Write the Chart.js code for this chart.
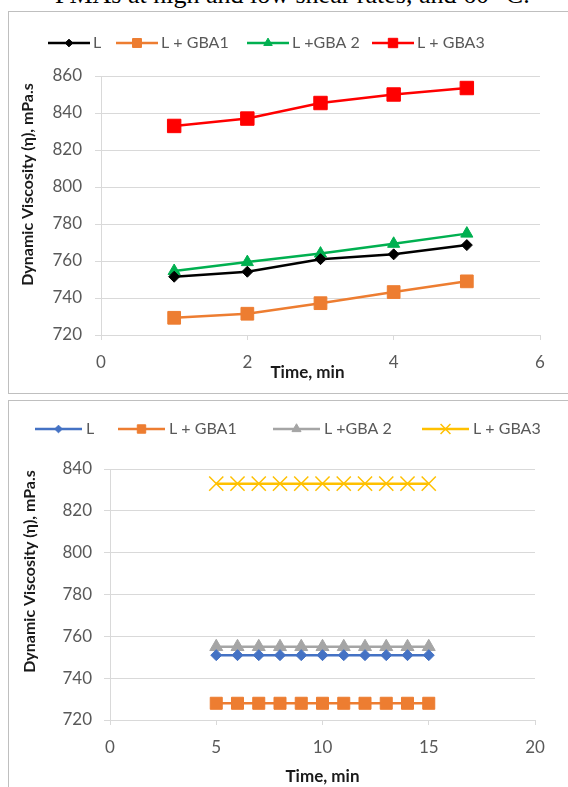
<!DOCTYPE html>
<html>
<head>
<meta charset="utf-8">
<script src="https://cdn.jsdelivr.net/npm/chart.js@4.4.0/dist/chart.umd.min.js"></script>
<style>
  body { margin: 0; background: #fff; width: 568px; height: 787px; overflow: hidden; position: relative; }
  #caption { position: absolute; left: 55px; top: -18px; font: 26px/1 "Liberation Serif"; white-space: nowrap; color: #000; }
  .box { position: absolute; left: 8px; width: 600px; border: 1px solid #bfbfbf; box-sizing: border-box; background: #fff; }
  #box1 { top: 11px; height: 383px; }
  #box2 { top: 400px; height: 420px; }
  canvas { position: absolute; left: 0; top: 0; }
</style>
</head>
<body>
<div id="caption">PMAs at high and low shear rates, and 60 °C.</div>
<div class="box" id="box1"><canvas id="chart1" width="559" height="381" style="width:559px;height:381px"></canvas></div>
<div class="box" id="box2"><canvas id="chart2" width="559" height="386" style="width:559px;height:386px"></canvas></div>

<script>
// series labels
var seriesNames = ['L', 'L + GBA1', 'L +GBA 2', 'L + GBA3'];

// top chart: viscosity vs time (min)
var time1 = [1, 2, 3, 4, 5];
var visc1_L = [751.5, 754.2, 761, 763.6, 768.6];
var visc1_GBA1 = [729.3, 731.5, 737.2, 743.2, 749];
var visc1_GBA2 = [754.6, 759.4, 764, 769.3, 774.8];
var visc1_GBA3 = [833, 837, 845.4, 850, 853.5];

// bottom chart
var time2 = [5, 6, 7, 8, 9, 10, 11, 12, 13, 14, 15];
var visc2_L = [751, 751, 751, 751, 751, 751, 751, 751, 751, 751, 751];
var visc2_GBA1 = [728, 728, 728, 728, 728, 728, 728, 728, 728, 728, 728];
var visc2_GBA2 = [755, 755, 755, 755, 755, 755, 755, 755, 755, 755, 755];
var visc2_GBA3 = [833, 833, 833, 833, 833, 833, 833, 833, 833, 833, 833];

var xTitle = 'Time, min';
var yTitle = 'Dynamic Viscosity (\u03b7), mPa.s';

function pts(xs, ys) {
  return xs.map(function (x, i) { return { x: x, y: ys[i] }; });
}

function series(label, xs, ys, color, style, radius, markerBorder) {
  return {
    label: label,
    data: pts(xs, ys),
    borderColor: color,
    borderWidth: 2.5,
    pointStyle: style,
    pointRadius: radius,
    pointHoverRadius: radius,
    pointBackgroundColor: color,
    pointBorderColor: color,
    pointBorderWidth: markerBorder || 1,
    tension: 0
  };
}

// legend with a line through the marker, like Excel
var lineLegend = {
  id: 'lineLegend',
  afterDraw: function (chart, args, opts) {
    var ctx = chart.ctx;
    ctx.save();
    ctx.font = '16px Lato';
    ctx.textBaseline = 'middle';
    ctx.textAlign = 'left';
    chart.data.datasets.forEach(function (ds, i) {
      var x = opts.starts[i];
      ctx.strokeStyle = ds.borderColor;
      ctx.lineWidth = ds.borderWidth;
      ctx.beginPath();
      ctx.moveTo(x, opts.y);
      ctx.lineTo(x + opts.lineLen, opts.y);
      ctx.stroke();
      ctx.fillStyle = ds.pointBackgroundColor;
      ctx.strokeStyle = ds.pointBorderColor;
      ctx.lineWidth = ds.pointBorderWidth;
      Chart.helpers.drawPoint(ctx, {
        pointStyle: ds.pointStyle,
        radius: ds.pointRadius * opts.markerScale,
        borderWidth: ds.pointBorderWidth,
        rotation: 0
      }, x + opts.lineLen / 2, opts.y);
      ctx.fillStyle = '#595959';
      ctx.fillText(ds.label, x + opts.lineLen + opts.textGap, opts.y);
    });
    ctx.restore();
  }
};

// axis titles (Excel puts them slightly off centre)
var axisTitles = {
  id: 'axisTitles',
  afterDraw: function (chart, args, opts) {
    var ctx = chart.ctx;
    var a = chart.chartArea;
    ctx.save();
    ctx.fillStyle = '#1a1a1a';
    ctx.font = 'bold 17px Lato';
    ctx.textAlign = 'center';
    ctx.textBaseline = 'middle';
    ctx.fillText(xTitle, (a.left + a.right) / 2 + opts.xShift, opts.xY);
    ctx.font = 'bold 16px Lato';
    ctx.translate(opts.yX, (a.top + a.bottom) / 2 + opts.yShift);
    ctx.rotate(-Math.PI / 2);
    ctx.fillText(yTitle, 0, 0);
    ctx.restore();
  }
};

function makeScales(xMax, xStep, yMin, yMax, yWidth, xHeight, yPad) {
  var tickFont = { family: 'Lato', size: 17 };
  return {
    x: {
      type: 'linear',
      min: 0,
      max: xMax,
      ticks: { stepSize: xStep, color: '#595959', font: tickFont, padding: 12 },
      grid: { drawOnChartArea: false, drawTicks: true, tickLength: 5, color: '#d9d9d9' },
      border: { color: '#d9d9d9', width: 1 },
      afterFit: function (s) { s.height = xHeight; }
    },
    y: {
      min: yMin,
      max: yMax,
      ticks: { stepSize: 20, color: '#595959', font: tickFont, padding: yPad },
      grid: { color: '#d9d9d9', lineWidth: 1, tickLength: 6 },
      border: { color: '#d9d9d9', width: 1 },
      afterFit: function (s) { s.width = yWidth; }
    }
  };
}

new Chart(document.getElementById('chart1').getContext('2d'), {
  type: 'line',
  data: {
    datasets: [
      series(seriesNames[0], time1, visc1_L, '#000000', 'rectRot', 5.5),
      series(seriesNames[1], time1, visc1_GBA1, '#ED7D31', 'rect', 9),
      series(seriesNames[2], time1, visc1_GBA2, '#00B050', 'triangle', 7),
      series(seriesNames[3], time1, visc1_GBA3, '#FF0000', 'rect', 9.5)
    ]
  },
  options: {
    responsive: false,
    animation: false,
    layout: { padding: { top: 64, left: 0, right: 28, bottom: 0 } },
    scales: makeScales(6, 2, 720, 860, 92, 58, 13),
    plugins: {
      legend: { display: false },
      tooltip: { enabled: false },
      lineLegend: { starts: [39, 107, 238, 363], y: 31, lineLen: 42, textGap: 3, markerScale: 0.7 },
      axisTitles: { xShift: -13, xY: 361, yX: 19, yShift: -21 }
    }
  },
  plugins: [lineLegend, axisTitles]
});

new Chart(document.getElementById('chart2').getContext('2d'), {
  type: 'line',
  data: {
    datasets: [
      series(seriesNames[0], time2, visc2_L, '#4472C4', 'rectRot', 5.5),
      series(seriesNames[1], time2, visc2_GBA1, '#ED7D31', 'rect', 8.5),
      series(seriesNames[2], time2, visc2_GBA2, '#A5A5A5', 'triangle', 7.5),
      series(seriesNames[3], time2, visc2_GBA3, '#FFC000', 'crossRot', 10, 1.5)
    ]
  },
  options: {
    responsive: false,
    animation: false,
    layout: { padding: { top: 68, left: 0, right: 33, bottom: 0 } },
    scales: makeScales(20, 5, 720, 840, 101, 67, 12),
    plugins: {
      legend: { display: false },
      tooltip: { enabled: false },
      lineLegend: { starts: [26, 109, 264, 413], y: 28, lineLen: 47, textGap: 4, markerScale: 0.7 },
      axisTitles: { xShift: 0, xY: 376, yX: 21, yShift: -23 }
    }
  },
  plugins: [lineLegend, axisTitles]
});
</script>
</body>
</html>
